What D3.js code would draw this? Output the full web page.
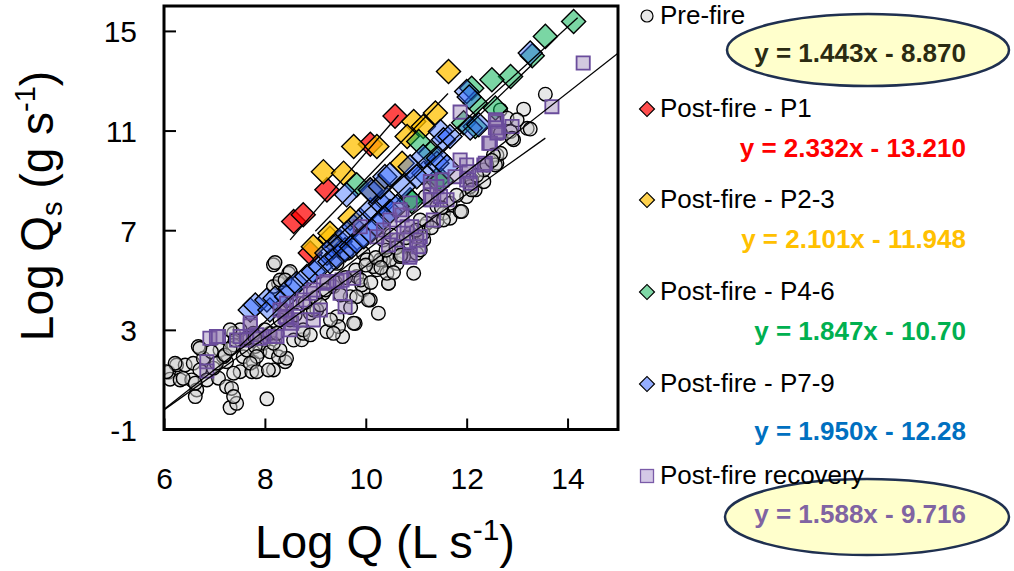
<!DOCTYPE html>
<html>
<head>
<meta charset="utf-8">
<script src="https://cdn.jsdelivr.net/npm/d3@7"></script>
<style>
  body { margin: 0; background: #fff; }
  svg { display: block; }
  text { font-family: "Liberation Sans", Arial, Helvetica, sans-serif; }
</style>
</head>
<body>
<svg id="chart" width="1014" height="571"></svg>
<script>
// Log Q (L/s) vs Log Qs (g/s) rating data, grouped by fire period
const preFire = [
  [6.09,1.30],[6.12,1.02],[6.25,1.59],[6.42,1.59],[6.58,1.66],[6.68,2.33],[6.71,1.39],[6.32,0.99],
  [6.55,0.99],[6.65,0.59],[6.62,0.32],[6.85,0.99],[7.08,1.06],[7.24,0.72],[7.34,0.65],[7.31,-0.12],
  [7.44,0.05],[8.04,0.23],[6.98,1.46],[7.24,1.72],[7.38,2.86],[7.38,2.39],[7.57,1.92],[7.64,2.19],
  [7.51,1.32],[7.77,1.72],[7.90,2.12],[7.97,2.46],[8.10,2.12],[8.17,1.39],[8.40,1.72],[8.27,1.92],
  [8.57,2.59],[7.81,2.33],[7.51,3.00],[7.31,3.00],[7.11,2.19],[7.18,1.92],[6.78,1.86],[6.94,2.12],
  [7.74,1.32],[6.22,1.66],[7.38,0.32],[6.05,1.32],[6.38,1.05],[6.62,0.86],[6.71,2.26],[7.04,1.66],
  [7.21,1.99],[7.31,2.26],[7.41,2.59],[7.77,2.86],[7.64,2.66],[7.84,1.93],[7.71,1.66],[7.38,1.26],
  [7.84,1.32],[8.07,1.39],[8.43,1.86],[8.30,2.19],[8.17,2.46],[8.10,2.86],[8.24,2.86],[8.50,3.40],
  [8.17,5.61],[8.20,5.70],[8.47,5.27],[8.27,4.87],[8.17,4.74],[8.30,5.00],[8.73,2.60],[8.76,2.86],
  [8.90,3.67],[9.03,3.80],[9.16,4.47],[9.23,2.93],[9.54,2.73],[9.43,3.53],[9.36,4.74],[9.69,4.33],
  [9.79,3.26],[9.95,4.60],[10.09,4.20],[10.25,3.67],[10.45,4.87],[10.95,5.27],[9.82,5.14],[10.22,5.41],
  [9.43,5.67],[9.62,6.07],[9.95,6.07],[10.35,5.81],[10.62,5.67],[10.75,5.94],[10.35,6.61],[10.62,6.61],
  [10.88,6.88],[10.75,6.35],[11.01,6.07],[11.15,6.61],[11.15,7.15],[11.41,7.35],[11.41,7.95],[11.54,7.68],
  [11.67,7.48],[11.87,7.75],[11.67,8.08],[12.00,8.35],[12.17,8.62],[12.07,8.75],[12.34,8.95],[12.34,9.42],
  [12.60,9.69],[12.60,10.02],[12.67,10.09],[12.93,10.63],[12.87,10.96],[13.20,11.09],[12.67,11.83],
  [13.13,11.86],[13.56,12.46],[12.80,11.50],[13.00,11.43],[13.26,11.06],[12.67,10.90],[12.90,10.69],
  [12.53,10.02],[12.57,9.62],[12.40,9.62],[12.10,9.02],[12.10,8.62],[11.90,7.75],[11.54,7.41],
  [11.21,7.28],[11.14,6.88],[11.18,8.35],[11.08,7.41],[11.01,6.74],[10.45,4.87],[9.76,3.27],[9.46,3.13],
  [8.50,5.34],[8.40,5.00],[10.05,4.20],[9.92,4.80],[10.15,5.54],[10.29,5.81],[10.48,5.81],[10.68,5.94],
  [10.02,5.81],[10.42,5.27],[9.82,4.33],[11.08,6.21],[10.88,6.48],[8.96,3.80],[8.76,3.00],[9.36,2.86],
  [8.60,3.60],[8.80,4.10],[9.00,4.30],[9.20,4.60],[9.40,4.90],[9.60,5.10],[9.80,5.40],[10.00,5.60],
  [10.20,5.90],[10.40,6.20],[10.60,6.30],[10.80,6.70],[11.00,7.00],[9.10,4.00],[9.50,4.40],[9.90,5.00],
  [10.30,5.50],[10.70,6.00],[11.30,7.10],[11.50,7.90],[11.80,8.40],[12.20,9.20],[12.50,9.80],[8.30,3.40],
  [8.00,3.00],[7.80,2.70],[9.70,3.90],[10.10,4.90],[10.55,5.30],[9.30,3.40],[8.90,2.80],[10.50,6.80]
];

const postP1 = [[8.57,7.35],[8.76,7.62],[8.90,6.08],[9.23,8.62],[10.09,10.45],[10.58,11.58]];

const postP23 = [
  [8.96,6.34],[9.29,6.68],[9.29,6.88],[9.69,7.48],[9.16,9.35],[9.56,9.29],[9.76,10.36],[10.22,10.36],
  [10.95,11.36],[10.82,10.76],[11.38,11.70],[10.72,9.69],[10.29,8.75],[10.09,8.62],[11.64,13.37],[11.14,11.16]
];

const postP46 = [
  [14.12,15.38],[13.56,14.78],[13.30,14.00],[12.87,13.17],[12.50,13.04],[12.10,12.70],[12.17,12.11],
  [12.57,11.90],[11.94,11.31],[12.17,11.16],[11.05,10.56],[11.28,10.09],[11.41,9.02],[11.50,9.00],
  [9.82,8.82],[10.88,8.22],[10.91,8.15]
];

const postP79 = [
  [7.71,3.80],[7.81,4.00],[8.04,4.20],[8.10,3.80],[8.20,4.27],[8.43,4.33],[8.50,4.67],[8.63,4.87],
  [8.83,5.14],[8.96,5.34],[9.10,5.54],[9.23,6.08],[9.29,5.74],[9.36,6.34],[9.43,5.94],[9.49,6.54],
  [9.59,6.21],[9.62,6.88],[9.72,6.34],[9.76,7.14],[9.82,6.54],[9.89,7.41],[9.96,6.74],[10.09,6.94],
  [10.09,7.82],[10.22,7.21],[10.29,8.08],[10.35,7.48],[10.42,8.22],[10.48,7.75],[10.62,7.95],[10.75,8.75],
  [11.15,9.29],[11.41,9.69],[9.62,8.42],[10.12,8.55],[10.09,8.62],[10.29,8.75],[10.38,9.15],[10.48,9.22],
  [10.88,9.55],[11.01,9.15],[11.14,9.96],[11.44,9.89],[11.61,9.55],[11.48,10.96],[11.54,10.63],
  [11.67,10.76],[12.07,11.10],[12.24,11.23],[12.00,12.57],[12.05,12.35],[13.26,14.11]
];

const postRecovery = [
  [6.85,1.72],[6.85,1.35],[6.91,2.66],[7.04,2.73],[7.08,2.73],[7.44,2.59],[7.51,2.73],[7.64,2.59],
  [7.71,3.16],[7.84,2.80],[7.90,2.66],[8.10,2.73],[8.20,2.73],[8.24,2.73],[8.40,3.73],[8.43,3.47],
  [8.53,3.27],[8.50,3.00],[8.63,4.07],[8.70,3.40],[8.90,4.47],[9.10,3.80],[9.16,4.87],[9.49,4.47],
  [9.59,3.93],[9.76,5.07],[9.43,4.94],[10.87,5.92],[11.08,6.74],[10.91,7.14],[10.62,6.61],[10.72,7.61],
  [10.45,6.41],[9.53,5.00],[9.23,4.94],[8.76,4.20],[8.43,4.07],[8.40,3.53],[8.96,4.60],[9.89,7.14],
  [10.22,6.74],[11.87,11.74],[13.69,11.96],[12.60,11.36],[12.90,11.16],[12.63,10.96],[12.47,10.49],
  [12.37,9.69],[11.87,9.82],[12.00,9.62],[12.04,9.35],[11.77,9.15],[11.51,9.02],[12.00,9.02],[11.28,8.75],
  [11.28,8.22],[11.61,8.22],[11.34,7.41],[10.88,8.09],[10.82,7.14],[11.05,6.34],[10.88,6.01],[14.31,13.71],
  [12.57,11.43],[12.57,11.11],[10.48,7.41],[10.75,6.88],[11.01,6.61],[10.68,7.82],[11.31,8.22],[11.48,8.35],
  [11.28,8.95],[11.41,8.75],[12.07,8.89],[12.34,9.62],[12.44,10.49],[12.60,10.90],[10.35,7.01],
  [8.96,3.40],[8.30,3.80],[7.71,3.27]
];

// Regression fits: slope, intercept and the Log Q range each trend line covers
const seriesNames    = ["Pre-fire", "Post-fire - P1", "Post-fire - P2-3", "Post-fire - P4-6", "Post-fire - P7-9", "Post-fire recovery"];
const fitSlopes      = [1.443, 2.332, 2.101, 1.847, 1.950, 1.588];
const fitIntercepts  = [-8.870, -13.210, -11.948, -10.70, -12.28, -9.716];
const fitRanges      = [[6.0, 13.56], [8.5, 10.65], [9.0, 11.63], [9.2, 14.2], [7.5, 13.3], [6.0, 15.0]];
const equationLabels = ["y = 1.443x - 8.870", "y = 2.332x - 13.210", "y = 2.101x - 11.948",
                        "y = 1.847x - 10.70", "y = 1.950x - 12.28", "y = 1.588x - 9.716"];

const xTicks = [6, 8, 10, 12, 14];
const yTicks = [-1, 3, 7, 11, 15];

const svg = d3.select("#chart");
const x = d3.scaleLinear().domain([6, 15]).range([164, 618]);
const y = d3.scaleLinear().domain([-1, 16]).range([429.5, 6]);

// ---- axes (ticks point inward) ----
const yAxis = d3.axisLeft(y).tickValues(yTicks).tickSize(-12).tickPadding(27).tickFormat(d => String(d));
const xAxis = d3.axisBottom(x).tickValues(xTicks).tickSize(-11).tickPadding(38).tickFormat(d => String(d));

const gy = svg.append("g").attr("transform", `translate(${x(6)},0)`).call(yAxis);
const gx = svg.append("g").attr("transform", `translate(0,${y(-1)})`).call(xAxis);
[gx, gy].forEach(g => {
  g.select(".domain").remove();
  g.selectAll(".tick line").attr("stroke", "#000").attr("stroke-width", 2);
  g.selectAll(".tick text").attr("fill", "#000").style("font-size", "30px")
    .style("font-family", '"Liberation Sans", Arial, sans-serif');
});
gy.selectAll(".tick text").attr("dy", "0.36em");

// ---- markers ----
const plot = svg.append("g");
plot.append("clipPath").attr("id", "plotClip")
  .append("rect").attr("x", 164).attr("y", 6).attr("width", 454).attr("height", 423.5);
const marks = plot.append("g").attr("clip-path", "url(#plotClip)");

marks.append("g").selectAll("circle").data(preFire).join("circle")
  .attr("cx", d => x(d[0])).attr("cy", d => y(d[1])).attr("r", 6.8)
  .attr("fill", "#cfcfcf").attr("fill-opacity", 0.5)
  .attr("stroke", "#000").attr("stroke-width", 1.4);

const diamond = d3.symbol().type(d3.symbolSquare).size(290);
function drawDiamonds(data, color, opacity) {
  marks.append("g").selectAll("path").data(data).join("path")
    .attr("d", diamond)
    .attr("transform", d => `translate(${x(d[0])},${y(d[1])}) rotate(45)`)
    .attr("fill", color).attr("fill-opacity", opacity)
    .attr("stroke", "#000").attr("stroke-width", 1.4);
}
drawDiamonds(postP1, "#ff0000", 0.72);
drawDiamonds(postP23, "#ffc000", 0.75);
drawDiamonds(postP46, "#00b050", 0.52);
drawDiamonds(postP79, "#2a62ff", 0.42);

const square = d3.symbol().type(d3.symbolSquare).size(175);
marks.append("g").selectAll("path").data(postRecovery).join("path")
  .attr("d", square)
  .attr("transform", d => `translate(${x(d[0])},${y(d[1])})`)
  .attr("fill", "#8064a2").attr("fill-opacity", 0.35)
  .attr("stroke", "#6a4c9c").attr("stroke-width", 1.8);

// ---- trend lines ----
const line = d3.line().x(d => x(d[0])).y(d => y(d[1]));
marks.append("g").selectAll("path").data(fitSlopes).join("path")
  .attr("d", (m, i) => line(fitRanges[i].map(v => [v, m * v + fitIntercepts[i]])))
  .attr("fill", "none").attr("stroke", "#000").attr("stroke-width", 1.3);

// ---- frame ----
svg.append("rect").attr("x", 164).attr("y", 6).attr("width", 454).attr("height", 423.5)
  .attr("fill", "none").attr("stroke", "#000").attr("stroke-width", 3);

// ---- axis titles ----
const xt = svg.append("text").attr("x", 385).attr("y", 558).attr("text-anchor", "middle")
  .style("font-size", "47px").attr("fill", "#000");
xt.append("tspan").text("Log Q (L s");
xt.append("tspan").attr("dy", -18).style("font-size", "30px").text("-1");
xt.append("tspan").attr("dy", 18).text(")");

const yt = svg.append("text").attr("transform", "translate(53,206) rotate(-90)")
  .attr("text-anchor", "middle").style("font-size", "46px").attr("fill", "#000");
yt.append("tspan").text("Log Q");
yt.append("tspan").attr("dy", 9).style("font-size", "29px").text("s");
yt.append("tspan").attr("dy", -9).text(" (g s");
yt.append("tspan").attr("dy", -18).style("font-size", "29px").text("-1");
yt.append("tspan").attr("dy", 18).text(")");

// ---- legend ----
const legendColors = ["#e8e8e8", "#ff4d4d", "#ffd24d", "#7fd7a6", "#94adff", "#d4c8e6"];
const eqColors = ["#2b2b12", "#ff0000", "#ffc000", "#00b050", "#0070c0", "#8064a2"];
const legendBaselines = [24, 117, 208, 300, 392, 484];
const eqBaselines = [62, 157, 248, 340, 440, 523];

// ellipses behind the highlighted equations
const ellipses = [[868, 50, 141, 36], [867, 517, 142, 38]];
svg.append("g").selectAll("ellipse").data(ellipses).join("ellipse")
  .attr("cx", d => d[0]).attr("cy", d => d[1]).attr("rx", d => d[2]).attr("ry", d => d[3])
  .attr("fill", "#ffffcc").attr("stroke", "#1f3050").attr("stroke-width", 2.5);

const lg = svg.append("g");
seriesNames.forEach((name, i) => {
  const cy = legendBaselines[i] - 8;
  if (i === 0) {
    lg.append("circle").attr("cx", 647).attr("cy", cy).attr("r", 6)
      .attr("fill", legendColors[i]).attr("stroke", "#000").attr("stroke-width", 1.2);
  } else if (i === 5) {
    lg.append("rect").attr("x", 640.5).attr("y", cy - 6.5).attr("width", 13).attr("height", 13)
      .attr("fill", legendColors[i]).attr("stroke", "#7a5ba8").attr("stroke-width", 1.3);
  } else {
    lg.append("path").attr("d", d3.symbol().type(d3.symbolSquare).size(112)())
      .attr("transform", `translate(647,${cy}) rotate(45)`)
      .attr("fill", legendColors[i]).attr("stroke", "#000").attr("stroke-width", 1.2);
  }
  lg.append("text").attr("x", 660).attr("y", legendBaselines[i])
    .style("font-size", "26px").attr("fill", "#000").text(name);
  lg.append("text").attr("x", 966).attr("y", eqBaselines[i]).attr("text-anchor", "end")
    .style("font-size", "26px").style("font-weight", "bold")
    .attr("fill", eqColors[i]).text(equationLabels[i]);
});
</script>
</body>
</html>
